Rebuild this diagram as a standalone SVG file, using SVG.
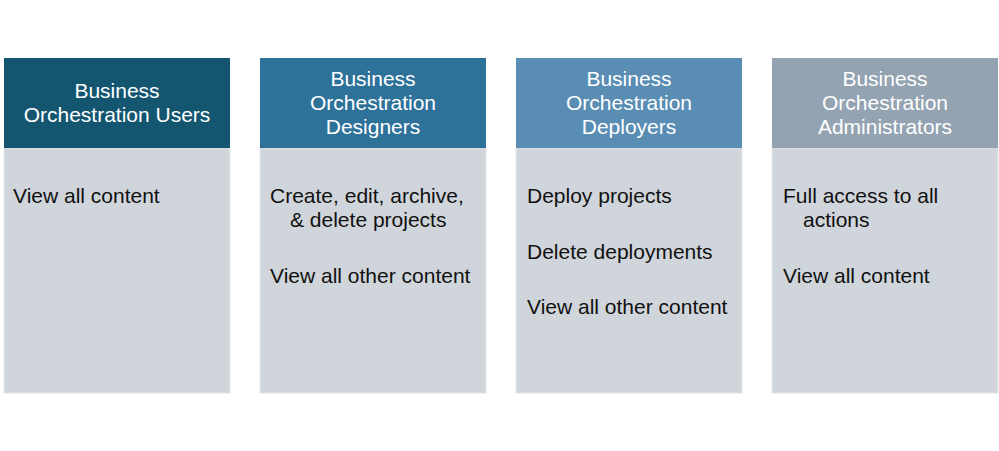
<svg xmlns="http://www.w3.org/2000/svg" width="999" height="451" viewBox="0 0 999 451">
<style>
.hd{font-family:"Liberation Sans",Arial,sans-serif;font-size:21px;fill:#ffffff;text-anchor:middle}
.bd{font-family:"Liberation Sans",Arial,sans-serif;font-size:21px;fill:#111111}
.body{fill:#D0D5DB;stroke:#E3E6EA;stroke-width:1}
</style>
<rect width="999" height="451" fill="#ffffff"/>
<g id="users">
<rect class="body" x="4" y="148" width="226" height="245"/>
<rect x="4" y="58" width="226" height="90" fill="#145670"/>
<text class="hd" x="117" y="98">Business</text>
<text class="hd" x="117" y="122">Orchestration Users</text>
<text class="bd" x="13" y="203">View all content</text>
</g>
<g id="designers">
<rect class="body" x="260" y="148" width="226" height="245"/>
<rect x="260" y="58" width="226" height="90" fill="#2E7199"/>
<text class="hd" x="373" y="86">Business</text>
<text class="hd" x="373" y="110">Orchestration</text>
<text class="hd" x="373" y="134">Designers</text>
<text class="bd" x="270" y="203">Create, edit, archive,</text>
<text class="bd" x="290" y="227">&amp; delete projects</text>
<text class="bd" x="270" y="283">View all other content</text>
</g>
<g id="deployers">
<rect class="body" x="516" y="148" width="226" height="245"/>
<rect x="516" y="58" width="226" height="90" fill="#5A8DB3"/>
<text class="hd" x="629" y="86">Business</text>
<text class="hd" x="629" y="110">Orchestration</text>
<text class="hd" x="629" y="134">Deployers</text>
<text class="bd" x="527" y="203">Deploy projects</text>
<text class="bd" x="527" y="259">Delete deployments</text>
<text class="bd" x="527" y="314">View all other content</text>
</g>
<g id="administrators">
<rect class="body" x="772" y="148" width="226" height="245"/>
<rect x="772" y="58" width="226" height="90" fill="#94A3B2"/>
<text class="hd" x="885" y="86">Business</text>
<text class="hd" x="885" y="110">Orchestration</text>
<text class="hd" x="885" y="134">Administrators</text>
<text class="bd" x="783" y="203">Full access to all</text>
<text class="bd" x="803" y="227">actions</text>
<text class="bd" x="783" y="283">View all content</text>
</g>
<g id="connectors"></g>
</svg>
